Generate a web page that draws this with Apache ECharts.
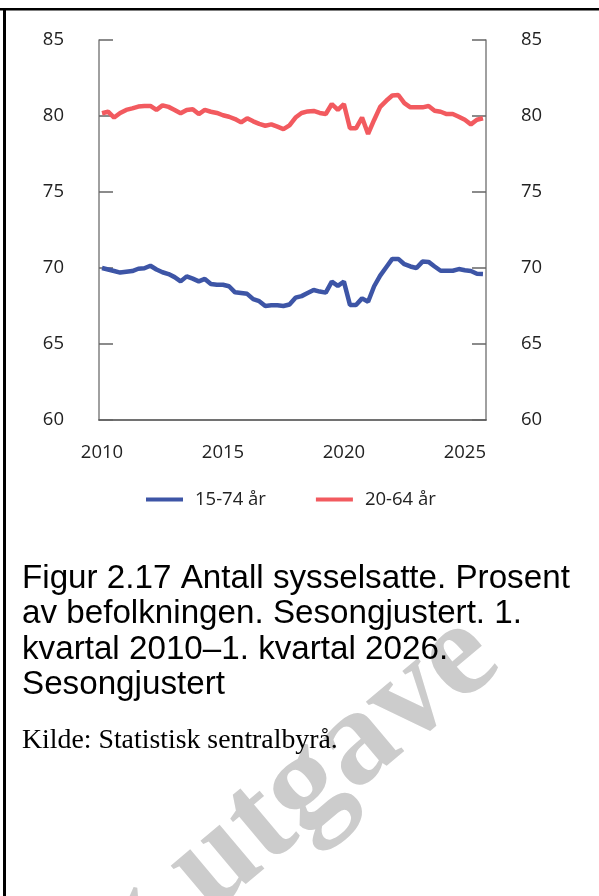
<!DOCTYPE html>
<html>
<head>
<meta charset="utf-8">
<script src="https://cdn.jsdelivr.net/npm/echarts@6/dist/echarts.min.js"></script>
<style>
  html, body { margin: 0; padding: 0; background: #fff; }
  #chart { width: 599px; height: 896px; }
</style>
</head>
<body>
<div id="chart"></div>
<script>
// quarters 2010K1 .. 2025K4
const quarters = [];
for (let y = 2010; y <= 2025; y++) {
  for (let q = 1; q <= 4; q++) quarters.push(y + 'K' + q);
}

const seriesNames = ['15-74 år', '20-64 år'];

// 15-74 år, prosent sysselsatte
const age15to74 = [
  70.0, 69.9, 69.8, 69.7, 69.75, 69.8, 69.95, 69.98,
  70.15, 69.9, 69.72, 69.6, 69.4, 69.12, 69.45, 69.3,
  69.12, 69.28, 68.95, 68.9, 68.9, 68.8, 68.4, 68.35,
  68.3, 67.95, 67.82, 67.5, 67.55, 67.55, 67.5, 67.6,
  68.05, 68.15, 68.35, 68.55, 68.45, 68.38, 69.1, 68.82,
  69.1, 67.57, 67.57, 68.0, 67.78, 68.8, 69.5, 70.05,
  70.6, 70.6, 70.25, 70.1, 70.0, 70.42, 70.4, 70.1,
  69.82, 69.82, 69.82, 69.93, 69.85, 69.8, 69.62, 69.6
];

// 20-64 år, prosent sysselsatte
const age20to64 = [
  80.18, 80.28, 79.9, 80.2, 80.4, 80.5, 80.62, 80.66,
  80.66, 80.4, 80.7, 80.6, 80.4, 80.18, 80.4, 80.45,
  80.13, 80.4, 80.28, 80.2, 80.05, 79.95, 79.8, 79.58,
  79.85, 79.65, 79.48, 79.36, 79.45, 79.3, 79.14, 79.38,
  79.9, 80.2, 80.3, 80.33, 80.2, 80.13, 80.79, 80.4,
  80.79, 79.19, 79.19, 79.9, 78.82, 79.74, 80.6, 81.0,
  81.35, 81.38, 80.85, 80.57, 80.57, 80.57, 80.66, 80.35,
  80.28, 80.13, 80.13, 79.95, 79.75, 79.45, 79.75, 79.85
];

const colors = ['#3d55a6', '#f25a5f'];
const axisFont = 'Open Sans, Noto Sans, sans-serif';

const chart = echarts.init(document.getElementById('chart'), null, { renderer: 'canvas' });

const yAxisBase = {
  type: 'value',
  min: 60,
  max: 85,
  interval: 5,
  axisLine: { show: true, lineStyle: { color: '#808080', width: 1.5 } },
  axisTick: { show: true, inside: true, length: 14, lineStyle: { color: '#666', width: 1.5 } },
  splitLine: { show: false },
  axisLabel: { color: '#222', fontFamily: axisFont, fontSize: 18.5, margin: 35 }
};

chart.setOption({
  backgroundColor: '#ffffff',
  animation: false,
  title: [
    {
      text: 'Figur 2.17 Antall sysselsatte. Prosent\nav befolkningen. Sesongjustert. 1.\nkvartal 2010–1. kvartal 2026.\nSesongjustert',
      left: 22,
      top: 561,
      padding: 0,
      textStyle: {
        fontFamily: 'Liberation Sans, Arial, sans-serif',
        fontSize: 33.2,
        fontWeight: 'normal',
        color: '#000',
        lineHeight: 35.5
      }
    },
    {
      text: 'Kilde: Statistisk sentralbyrå.',
      left: 22,
      top: 725,
      padding: 0,
      textStyle: {
        fontFamily: 'Liberation Serif, Times New Roman, serif',
        fontSize: 27.8,
        fontWeight: 'normal',
        color: '#000',
        lineHeight: 32
      }
    }
  ],
  legend: {
    data: seriesNames,
    left: 146,
    top: 490,
    padding: 0,
    icon: 'rect',
    itemWidth: 37,
    itemHeight: 4,
    itemGap: 50,
    textStyle: { fontFamily: axisFont, fontSize: 18.5, color: '#222', padding: [0, 0, 0, 7] }
  },
  grid: { left: 99, right: 113, top: 40, bottom: 476 },
  xAxis: {
    type: 'category',
    data: quarters,
    boundaryGap: true,
    axisLine: { show: true, lineStyle: { color: '#444', width: 1.5 } },
    axisTick: { show: false },
    axisLabel: {
      color: '#222',
      fontFamily: axisFont,
      fontSize: 18.5,
      margin: 23,
      interval: (idx) => idx % 20 === 0,
      formatter: (v) => v.slice(0, 4)
    }
  },
  yAxis: [
    Object.assign({}, yAxisBase, { position: 'left' }),
    Object.assign({}, yAxisBase, { position: 'right' })
  ],
  series: [
    {
      name: seriesNames[0],
      type: 'line',
      data: age15to74,
      yAxisIndex: 0,
      symbol: 'none',
      lineStyle: { color: colors[0], width: 4.5 },
      itemStyle: { color: colors[0] }
    },
    {
      name: seriesNames[1],
      type: 'line',
      data: age20to64,
      yAxisIndex: 0,
      symbol: 'none',
      lineStyle: { color: colors[1], width: 4.5 },
      itemStyle: { color: colors[1] }
    }
  ],
  graphic: [
    { type: 'rect', shape: { x: 0, y: 8, width: 599, height: 2.5 }, style: { fill: '#000' }, z: 100 },
    { type: 'rect', shape: { x: 3, y: 8, width: 3, height: 900 }, style: { fill: '#000' }, z: 100 },
    {
      type: 'text',
      x: 438,
      y: 588,
      rotation: Math.PI * 40 / 180,
      z: -10,
      style: {
        text: 'Foreløpig utgave',
        fontFamily: 'Liberation Serif, Times New Roman, serif',
        fontWeight: 'bold',
        fontSize: 136,
        fill: '#cccccc',
        align: 'right',
        verticalAlign: 'top'
      }
    }
  ]
});
</script>
</body>
</html>
